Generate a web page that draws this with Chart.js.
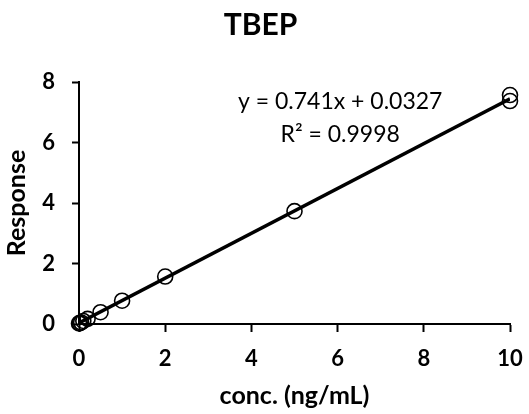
<!DOCTYPE html>
<html>
<head>
<meta charset="utf-8">
<script src="https://cdn.jsdelivr.net/npm/chart.js@4/dist/chart.umd.min.js"></script>
<style>
  html, body { margin: 0; padding: 0; background: #fff; }
  #wrap { width: 529px; height: 414px; position: relative; }
</style>
</head>
<body>
<div id="wrap"><canvas id="c" width="529" height="414"></canvas></div>
<script>
// Calibration standards for TBEP
const concentrations = [0, 0.02, 0.05, 0.1, 0.2, 0.5, 1, 2, 5, 10, 10];
const responses      = [0.02, 0.03, 0.05, 0.10, 0.17, 0.39, 0.77, 1.57, 3.73, 7.57, 7.37];

// Linear fit reported for the curve
const slope = 0.741;
const intercept = 0.0327;
const rSquared = 0.9998;
const fitRange = [0, 10];

const xTicks = [0, 2, 4, 6, 8, 10];
const yTicks = [0, 2, 4, 6, 8];

const FONT = "Lato, 'Open Sans', 'Liberation Sans', sans-serif";

const scatterData = concentrations.map((x, i) => ({ x: x, y: responses[i] }));
const fitData = fitRange.map(x => ({ x: x, y: slope * x + intercept }));

// Draws the regression equation and R² inside the plot
const equationLabel = {
  id: 'equationLabel',
  afterDatasetsDraw(chart) {
    const { ctx, scales } = chart;
    const cx = scales.x.getPixelForValue(6.06);
    ctx.save();
    ctx.fillStyle = '#000';
    ctx.font = "23px " + FONT;
    ctx.textAlign = 'center';
    ctx.textBaseline = 'middle';
    ctx.fillText('y = ' + slope + 'x + ' + intercept, cx, scales.y.getPixelForValue(7.36));
    ctx.fillText('R\u00B2 = ' + rSquared, cx, scales.y.getPixelForValue(6.26));
    ctx.restore();
  }
};

new Chart(document.getElementById('c'), {
  type: 'scatter',
  data: {
    datasets: [
      {
        label: 'Fit',
        type: 'line',
        data: fitData,
        borderColor: '#000',
        borderWidth: 3.5,
        pointRadius: 0,
        fill: false,
        order: 2
      },
      {
        label: 'TBEP',
        data: scatterData,
        clip: false,
        pointStyle: 'circle',
        pointRadius: 7.5,
        pointBorderWidth: 1.6,
        pointBackgroundColor: 'rgba(0,0,0,0)',
        pointBorderColor: '#000',
        order: 1
      }
    ]
  },
  options: {
    responsive: false,
    animation: false,
    layout: { padding: { left: 11, right: 19, top: 0, bottom: 0 } },
    plugins: {
      legend: { display: false },
      tooltip: { enabled: false },
      title: {
        display: true,
        text: 'TBEP',
        color: '#000',
        font: { family: FONT, size: 30, weight: 'bold', lineHeight: 1.2 },
        padding: { top: 7.5, bottom: 38.5 }
      }
    },
    scales: {
      x: {
        type: 'linear',
        min: 0, max: 10,
        afterBuildTicks(axis) { axis.ticks = xTicks.map(v => ({ value: v })); },
        afterFit(axis) { axis.height = 90; },
        grid: { display: true, drawOnChartArea: false, drawTicks: true, tickLength: 8, tickColor: '#000', tickWidth: 2 },
        border: { display: true, color: '#000', width: 2 },
        ticks: { color: '#000', font: { family: FONT, size: 22, weight: 'bold', lineHeight: 1.9 }, padding: 6, maxRotation: 0 },
        title: { display: true, text: 'conc. (ng/mL)', color: '#000', font: { family: FONT, size: 25, weight: 'bold' }, padding: { top: 0, bottom: 3 } }
      },
      y: {
        type: 'linear',
        min: 0, max: 8,
        afterBuildTicks(axis) { axis.ticks = yTicks.map(v => ({ value: v })); },
        afterFit(axis) { axis.width = 68; },
        grid: { display: true, drawOnChartArea: false, drawTicks: true, tickLength: 7, tickColor: '#000', tickWidth: 2 },
        border: { display: true, color: '#000', width: 2 },
        ticks: { color: '#000', font: { family: FONT, size: 22, weight: 'bold' }, padding: 17 },
        title: { display: true, text: 'Response', color: '#000', font: { family: FONT, size: 25, weight: 'bold', lineHeight: 0.5 }, padding: { top: 0, bottom: 0 } }
      }
    }
  },
  plugins: [equationLabel]
});
</script>
</body>
</html>
